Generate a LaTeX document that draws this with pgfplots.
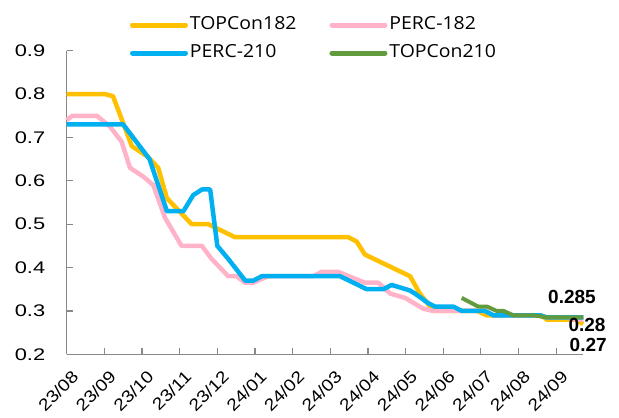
\documentclass[border=0pt]{standalone}
\usepackage{fontspec}
\setmainfont{Liberation Sans}
\newfontfamily\tickfont[FakeStretch=1.3]{Liberation Sans}
\newfontfamily\xtickfont[FakeStretch=1.15]{Liberation Sans}
\newfontfamily\legfont[FakeStretch=1.08]{Open Sans}
\usepackage{pgfplots}
\pgfplotsset{compat=1.18}

\definecolor{cTop182}{HTML}{FFC000}
\definecolor{cPerc182}{HTML}{FFB3C8}
\definecolor{cPerc210}{HTML}{00B0F0}
\definecolor{cTop210}{HTML}{629B3E}
\definecolor{axgray}{HTML}{888888}

\begin{document}
\begin{tikzpicture}
\begin{axis}[
    name=ax,
    scale only axis,
    width=516.6pt, height=303.6pt,
    xmin=0, xmax=13.72, ymin=0.2, ymax=0.9,
    axis x line*=bottom, axis y line*=left,
    axis line style={draw=axgray, line width=1.2pt},
    tick style={draw=axgray, line width=1.2pt},
    tick align=inside, major tick length=6pt,
    xtick={0,...,13},
    xticklabels={23/08,23/09,23/10,23/11,23/12,24/01,24/02,24/03,24/04,24/05,24/06,24/07,24/08,24/09},
    ytick={0.2,0.3,0.4,0.5,0.6,0.7,0.8,0.9},
    yticklabels={0.2,0.3,0.4,0.5,0.6,0.7,0.8,0.9},
    yticklabel style={font=\fontsize{16.8}{18}\tickfont, xshift=-18pt},
    xticklabel style={font=\fontsize{16.8}{18}\xtickfont, xshift=11pt, yshift=-17pt, rotate=45, anchor=east},
    clip=false,
    legend columns=2,
    legend cell align=left,
    legend image code/.code={\draw[#1, line width=5pt, line cap=round] (0pt,0pt) -- (53pt,0pt);},
    legend style={draw=none, fill=none, inner sep=0pt, outer sep=0pt,
        at={(axis description cs:0.1225,1.0385)}, anchor=west,
        font=\fontsize{18}{20}\legfont,
        nodes={inner sep=2pt, text height=13pt, text depth=4pt},
        row sep=7pt,
        /tikz/every even column/.append style={column sep=31pt}},
    every axis plot/.append style={line width=4.5pt, line join=round},
]
\addplot[cTop182] coordinates {
(0,0.80) (1.02,0.80) (1.23,0.795) (1.73,0.68) (2.16,0.655) (2.43,0.63)
(2.66,0.56) (3.32,0.50) (3.76,0.50) (4.47,0.47) (7.48,0.47) (7.70,0.46)
(7.92,0.43) (9.12,0.38) (9.38,0.34) (9.74,0.30) (10.9,0.30) (11.15,0.29)
(12.6,0.29) (12.75,0.28) (13.5,0.28) (13.72,0.27)};
\addlegendentry{TOPCon182}
\addplot[cPerc182] coordinates {
(0,0.74) (0.15,0.75) (0.8,0.75) (1.15,0.725) (1.46,0.69) (1.68,0.63)
(2.03,0.61) (2.3,0.59) (2.61,0.515) (3.05,0.45) (3.59,0.45) (3.85,0.42)
(4.29,0.38) (4.51,0.38) (4.74,0.365) (4.95,0.365) (5.35,0.38) (6.55,0.38)
(6.77,0.39) (7.21,0.39) (7.92,0.365) (8.28,0.365) (8.59,0.34) (8.99,0.33)
(9.47,0.305) (9.74,0.30) (11.1,0.30) (11.33,0.29) (12.57,0.29) (12.75,0.285)
(13.3,0.285) (13.5,0.28) (13.72,0.28)};
\addlegendentry{PERC-182}
\addplot[cPerc210] coordinates {
(0,0.73) (1.5,0.73) (2.2,0.65) (2.66,0.53) (3.1,0.53) (3.36,0.567)
(3.59,0.58) (3.81,0.58) (4.0,0.45) (4.29,0.42) (4.74,0.37) (4.96,0.37)
(5.18,0.38) (7.26,0.38) (7.97,0.35) (8.41,0.35) (8.63,0.36) (9.12,0.347)
(9.3,0.337) (9.6,0.318) (9.78,0.31) (10.27,0.31) (10.49,0.30) (11.1,0.30)
(11.33,0.29) (12.57,0.29) (12.75,0.285) (13.72,0.285)};
\addlegendentry{PERC-210}
\addplot[cTop210, line width=4pt] coordinates {
(10.49,0.33) (10.93,0.31) (11.16,0.31) (11.42,0.30) (11.6,0.30)
(11.86,0.29) (12.39,0.29) (12.75,0.285) (13.72,0.285)};
\addlegendentry{TOPCon210}
\node[font=\bfseries\fontsize{19}{20}\selectfont] at (axis cs:13.42,0.332) {0.285};
\node[font=\bfseries\fontsize{19}{20}\selectfont] at (axis cs:13.82,0.268) {0.28};
\node[font=\bfseries\fontsize{19}{20}\selectfont] at (axis cs:13.85,0.221) {0.27};
\end{axis}
\pgfresetboundingbox
\path (ax.south west) ++(-66.7pt,-63.7pt) rectangle ++(619pt,418pt);
\end{tikzpicture}
\end{document}
